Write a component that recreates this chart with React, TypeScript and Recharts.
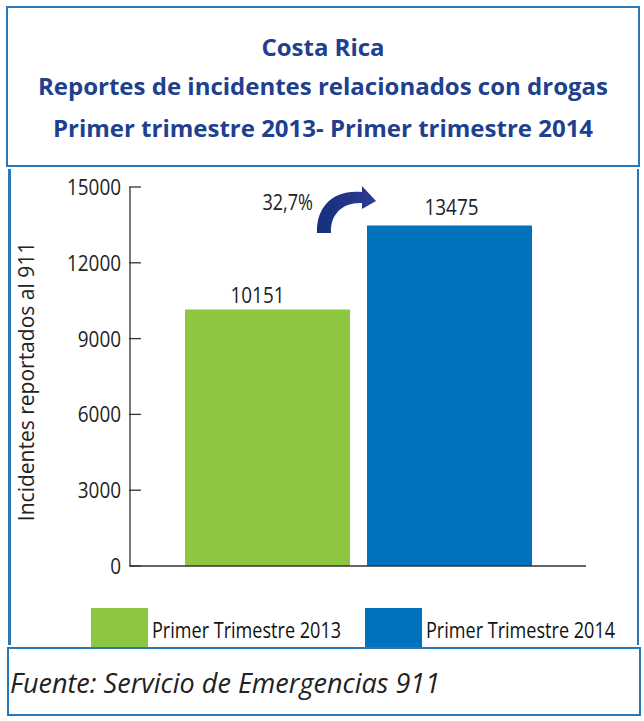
import { BarChart, Bar, XAxis, YAxis, LabelList } from "recharts";

// Reportes 911 — one category, two quarters side by side
const categories = [""];
const seriesNames = ["Primer Trimestre 2013", "Primer Trimestre 2014"];
const seriesColors = ["#8dc63f", "#0071bc"];
const values2013 = [10151];
const values2014 = [13475];
const yTicks = [0, 3000, 6000, 9000, 12000, 15000];

const titleLines = [
  "Costa Rica",
  "Reportes de incidentes relacionados con drogas",
  "Primer trimestre 2013- Primer trimestre 2014",
];
const source = "Fuente: Servicio de Emergencias 911";
const yLabel = "Incidentes reportados al 911";

const data = categories.map((c, i) => ({
  name: c,
  q2013: values2013[i],
  q2014: values2014[i],
}));

const change = ((values2014[0] - values2013[0]) / values2013[0]) * 100;
const changeLabel = `${change.toFixed(1).replace(".", ",")}%`;

const font = "'Open Sans', sans-serif";
const squeeze = 0.86; // original uses a condensed face
const border = "#2a77b8";

// condensed-looking svg text
const NarrowText = ({ x, y, anchor, size, children }: any) => (
  <text
    transform={`translate(${x},${y}) scale(${squeeze},1)`}
    dy="0.36em"
    textAnchor={anchor}
    fontSize={size}
    fill="#222"
    fontFamily={font}
  >
    {children}
  </text>
);

// tick text plus an inward tick mark (the original draws ticks inside the plot)
const YTick = (props: any) => {
  const { x, y, payload } = props;
  return (
    <g>
      <line x1={x + 8} x2={x + 20} y1={y} y2={y} stroke="#333" strokeWidth={1.3} />
      <NarrowText x={x} y={y} anchor="end" size={22}>
        {payload.value}
      </NarrowText>
    </g>
  );
};

const barLabel = (offset: number, dx: number) => (props: any) => {
  const { x, y, width, value } = props;
  return (
    <NarrowText x={x + width / 2 + dx} y={y - offset} anchor="middle" size={22}>
      {value}
    </NarrowText>
  );
};

export default function App() {
  return (
    <div style={{ position: "absolute", left: 0, top: 0, width: 644, height: 721, background: "#fff" }}>
      {/* title box */}
      <div
        style={{
          position: "absolute",
          left: 6,
          top: 6,
          width: 630,
          height: 157,
          border: `2px solid ${border}`,
          fontFamily: font,
          fontWeight: 700,
          fontSize: 24,
          color: "#213f8f",
          textAlign: "center",
        }}
      >
        {[39, 78, 120].map((c, i) => (
          <div
            key={i}
            style={{ position: "absolute", left: 0, right: 0, top: c - 15, lineHeight: "30px", whiteSpace: "nowrap" }}
          >
            {titleLines[i]}
          </div>
        ))}
      </div>

      {/* chart box */}
      <div
        style={{
          position: "absolute",
          left: 8,
          top: 169,
          width: 626,
          height: 476,
          borderLeft: `3px solid ${border}`,
          borderRight: `2px solid ${border}`,
        }}
      />

      <div style={{ position: "absolute", left: 10, top: 171 }}>
        <BarChart
          width={624}
          height={476}
          data={data}
          margin={{ top: 16, right: 48, left: 0, bottom: 0 }}
          barSize={165}
          barGap={17}
        >
          <XAxis
            dataKey="name"
            tick={false}
            tickLine={false}
            height={81}
            axisLine={{ stroke: "#333", strokeWidth: 1.5 }}
          />
          <YAxis
            width={120}
            domain={[0, 15000]}
            ticks={yTicks}
            tickSize={0}
            tickMargin={9}
            tick={<YTick />}
            tickLine={false}
            axisLine={{ stroke: "#333", strokeWidth: 1.3 }}
            label={{
              value: yLabel,
              angle: -90,
              position: "insideLeft",
              offset: 17,
              dy: 5,
              style: { textAnchor: "middle", fontSize: 21, fill: "#222", fontFamily: font },
            }}
          />
          <Bar dataKey="q2013" name={seriesNames[0]} fill={seriesColors[0]} isAnimationActive={false}>
            <LabelList dataKey="q2013" content={barLabel(14, -10)} />
          </Bar>
          <Bar dataKey="q2014" name={seriesNames[1]} fill={seriesColors[1]} isAnimationActive={false}>
            <LabelList dataKey="q2014" content={barLabel(18, 2)} />
          </Bar>
        </BarChart>
      </div>

      {/* growth annotation */}
      <svg style={{ position: "absolute", left: 0, top: 0 }} width={644} height={721} pointerEvents="none">
        <defs>
          <linearGradient id="arrowGrad" x1="0" y1="0" x2="1" y2="0">
            <stop offset="0%" stopColor="#15307c" />
            <stop offset="100%" stopColor="#2e3a94" />
          </linearGradient>
        </defs>
        <NarrowText x={313} y={202} anchor="end" size={21}>
          {changeLabel}
        </NarrowText>
        <path
          d="M317,233 C316,206 334,189 362,192 L362,186 L376,201 L362,209 L362,203 C344,202 330,213 331,233 Z"
          fill="url(#arrowGrad)"
        />
      </svg>

      {/* legend */}
      {seriesNames.map((n, i) => (
        <div key={n} style={{ position: "absolute", left: 91 + i * 274, top: 608, height: 40 }}>
          <div style={{ position: "absolute", left: 0, top: 0, width: 57, height: 40, background: seriesColors[i] }} />
          <div
            style={{
              position: "absolute",
              left: 61,
              top: 9,
              whiteSpace: "nowrap",
              fontSize: 21,
              lineHeight: "26px",
              color: "#111",
              fontFamily: font,
              transform: `scaleX(${squeeze})`,
              transformOrigin: "left center",
            }}
          >
            {n}
          </div>
        </div>
      ))}

      {/* source box */}
      <div
        style={{
          position: "absolute",
          left: 7,
          top: 647,
          width: 630,
          height: 65,
          border: `2px solid ${border}`,
          background: "#fff",
        }}
      >
        <div
          style={{
            position: "absolute",
            left: 1,
            top: 17,
            fontFamily: font,
            fontStyle: "italic",
            fontSize: 27,
            lineHeight: "34px",
            color: "#222",
            whiteSpace: "nowrap",
          }}
        >
          {source}
        </div>
      </div>
    </div>
  );
}
